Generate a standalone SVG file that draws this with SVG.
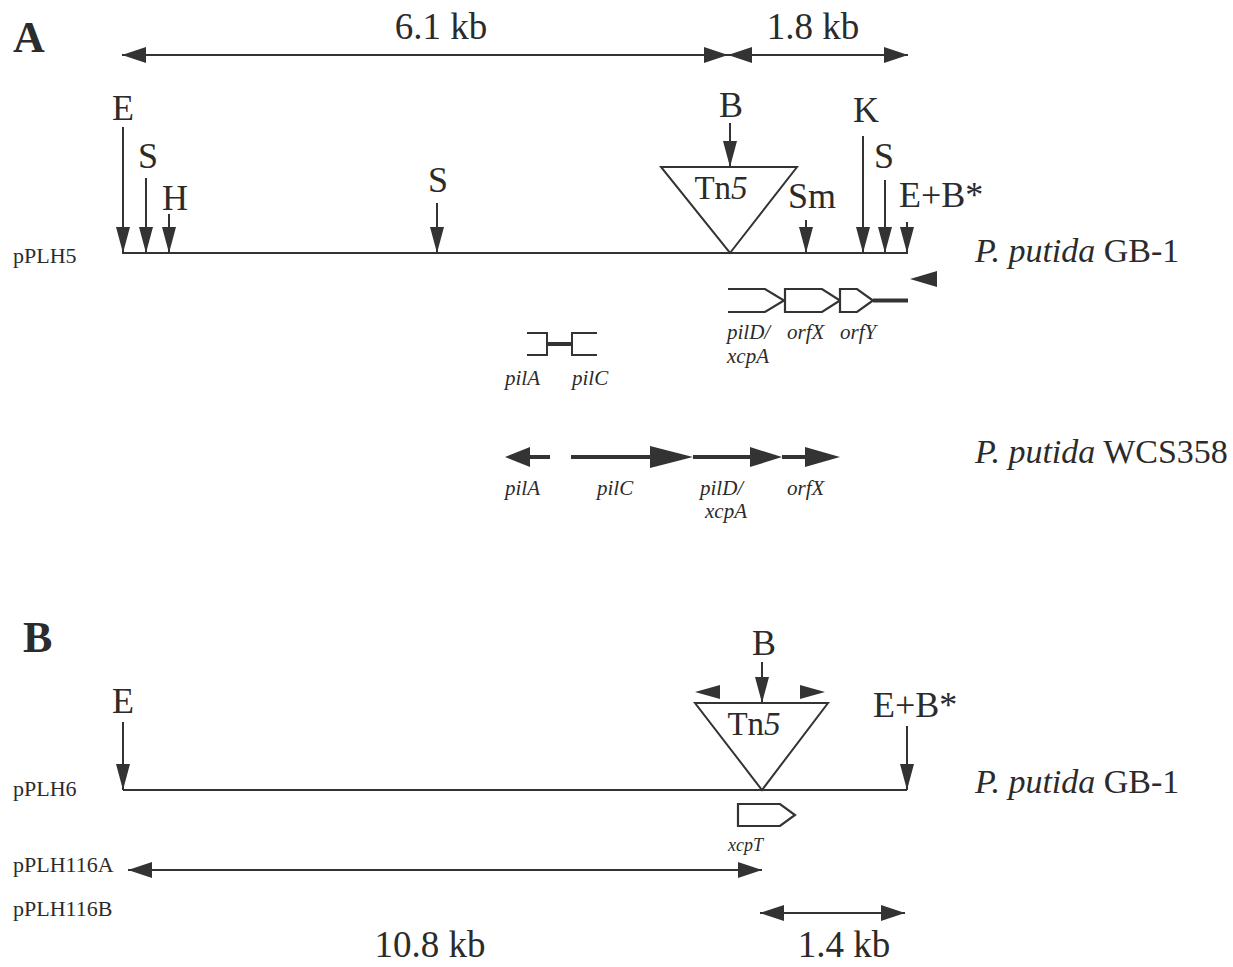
<svg xmlns="http://www.w3.org/2000/svg" width="1233" height="967" viewBox="0 0 1233 967">
<style>
.t{font-family:"Liberation Serif","Times New Roman",serif;fill:#2b2b2b}
.lbl{font-size:36px}
.kb{font-size:37px}
.pan{font-size:44px;font-weight:bold}
.pl{font-size:22px}
.gi{font-size:21px;font-style:italic}
.sp{font-size:34px}
.tn{font-size:33px}
.ln{stroke:#333;stroke-width:2;fill:none}
.thick{stroke:#333;stroke-width:4;fill:none}
.hd{fill:#333}
.box{stroke:#333;stroke-width:2.2;fill:#fff}
</style>
<defs>
<marker id="ra" markerUnits="userSpaceOnUse" markerWidth="14" markerHeight="26" refX="7" refY="26" orient="0" viewBox="0 0 14 26">
<path d="M0,0 L14,0 L7,26 z" fill="#333"/>
</marker>
<marker id="sa" markerUnits="userSpaceOnUse" markerWidth="24" markerHeight="16" refX="24" refY="8" orient="auto-start-reverse" viewBox="0 0 24 16">
<path d="M0,0 L24,8 L0,16 z" fill="#333"/>
</marker>
</defs>

<!-- Panel A -->
<g id="panelA-label"><text class="t pan" x="13" y="52">A</text></g>

<g id="scaleA">
<line class="ln" x1="122" y1="55" x2="728" y2="55" marker-start="url(#sa)" marker-end="url(#sa)"/>
<line class="ln" x1="728" y1="55" x2="908" y2="55" marker-start="url(#sa)" marker-end="url(#sa)"/>
<text class="t kb" x="441" y="39" text-anchor="middle">6.1 kb</text>
<text class="t kb" x="813" y="39" text-anchor="middle">1.8 kb</text>
</g>

<g id="pPLH5">
<text class="t pl" x="13" y="263">pPLH5</text>
<line class="ln" x1="122" y1="253" x2="908" y2="253"/>
</g>

<g id="sitesA">
<line class="ln" x1="123" y1="127" x2="123" y2="253" marker-end="url(#ra)"/>
<text class="t lbl" x="123" y="120" text-anchor="middle">E</text>
<line class="ln" x1="146" y1="178" x2="146" y2="253" marker-end="url(#ra)"/>
<text class="t lbl" x="148" y="168" text-anchor="middle">S</text>
<line class="ln" x1="169" y1="214" x2="169" y2="253" marker-end="url(#ra)"/>
<text class="t lbl" x="175" y="210" text-anchor="middle">H</text>
<line class="ln" x1="437" y1="203" x2="437" y2="253" marker-end="url(#ra)"/>
<text class="t lbl" x="438" y="192" text-anchor="middle">S</text>
<line class="ln" x1="730" y1="123" x2="730" y2="167" marker-end="url(#ra)"/>
<text class="t lbl" x="731" y="117" text-anchor="middle">B</text>
<line class="ln" x1="806" y1="220" x2="806" y2="253" marker-end="url(#ra)"/>
<text class="t lbl" x="812" y="208" text-anchor="middle">Sm</text>
<line class="ln" x1="863" y1="136" x2="863" y2="253" marker-end="url(#ra)"/>
<text class="t lbl" x="866" y="122" text-anchor="middle">K</text>
<line class="ln" x1="885" y1="180" x2="885" y2="253" marker-end="url(#ra)"/>
<text class="t lbl" x="884" y="168" text-anchor="middle">S</text>
<line class="ln" x1="907" y1="222" x2="907" y2="253" marker-end="url(#ra)"/>
<text class="t lbl" x="899" y="207">E+B*</text>
</g>

<g id="tn5A">
<path class="ln" d="M661,167 L797,167 L730,253 z"/>
<text class="t tn" x="721" y="199" text-anchor="middle">Tn<tspan font-style="italic">5</tspan></text>
</g>

<g id="gb1A"><text class="t sp" x="975" y="262"><tspan font-style="italic">P. putida</tspan> GB-1</text></g>

<g id="primerA"><path class="hd" d="M910,279 L937,271 L937,287 z"/></g>

<g id="genesGB1">
<path class="ln" style="stroke-width:2.2" d="M728,289 L765,289 L784,300.5 L765,312 L728,312"/>
<path class="box" d="M785,289 L822,289 L840,300.5 L822,312 L785,312 z"/>
<path class="box" d="M840,289 L857,289 L873,300.5 L857,312 L840,312 z"/>
<line class="thick" x1="873" y1="300.5" x2="908" y2="300.5"/>
<text class="t gi" x="727" y="339">pilD/</text>
<text class="t gi" x="727" y="363">xcpA</text>
<text class="t gi" x="787" y="339">orfX</text>
<text class="t gi" x="840" y="339">orfY</text>
</g>

<g id="pilAC">
<path class="ln" d="M527,333 L547,333 L547,355 L527,355"/>
<path class="ln" d="M597,333 L572,333 L572,355 L597,355"/>
<line class="thick" x1="547" y1="344" x2="572" y2="344"/>
<text class="t gi" x="505" y="385">pilA</text>
<text class="t gi" x="572" y="385">pilC</text>
</g>

<g id="wcs358">
<line class="thick" x1="528" y1="457" x2="550" y2="457"/>
<path class="hd" d="M505,457 L530,447 L530,467 z"/>
<line class="thick" x1="571" y1="457" x2="652" y2="457"/>
<path class="hd" d="M650,446 L693,457 L650,468 z"/>
<line class="thick" x1="693" y1="457" x2="752" y2="457"/>
<path class="hd" d="M750,447 L782,457 L750,467 z"/>
<line class="thick" x1="782" y1="457" x2="807" y2="457"/>
<path class="hd" d="M805,447 L840,457 L805,467 z"/>
<text class="t gi" x="505" y="495">pilA</text>
<text class="t gi" x="597" y="495">pilC</text>
<text class="t gi" x="700" y="495">pilD/</text>
<text class="t gi" x="705" y="518">xcpA</text>
<text class="t gi" x="787" y="495">orfX</text>
<text class="t sp" x="975" y="463"><tspan font-style="italic">P. putida</tspan> WCS358</text>
</g>

<!-- Panel B -->
<g id="panelB-label"><text class="t pan" x="23" y="652">B</text></g>

<g id="pPLH6">
<text class="t pl" x="13" y="796">pPLH6</text>
<line class="ln" x1="123" y1="790" x2="907" y2="790"/>
</g>

<g id="sitesB">
<line class="ln" x1="123" y1="722" x2="123" y2="790" marker-end="url(#ra)"/>
<text class="t lbl" x="123" y="713" text-anchor="middle">E</text>
<line class="ln" x1="762" y1="662" x2="762" y2="703" marker-end="url(#ra)"/>
<text class="t lbl" x="764" y="655" text-anchor="middle">B</text>
<line class="ln" x1="907" y1="726" x2="907" y2="790" marker-end="url(#ra)"/>
<text class="t lbl" x="873" y="717">E+B*</text>
</g>

<g id="tn5B">
<path class="ln" d="M695,703 L828,703 L762,790 z"/>
<text class="t tn" x="754" y="735" text-anchor="middle">Tn<tspan font-style="italic">5</tspan></text>
<path class="hd" d="M695,692 L720,685 L720,699 z"/>
<path class="hd" d="M825,692 L800,685 L800,699 z"/>
</g>

<g id="gb1B"><text class="t sp" x="975" y="793"><tspan font-style="italic">P. putida</tspan> GB-1</text></g>

<g id="xcpT">
<path class="box" d="M738,804 L780,804 L795,815 L780,826 L738,826 z"/>
<text class="t gi" x="728" y="851" style="font-size:18px">xcpT</text>
</g>

<g id="pPLH116">
<text class="t pl" x="13" y="872">pPLH116A</text>
<text class="t pl" x="13" y="916">pPLH116B</text>
<line class="ln" x1="128" y1="870" x2="762" y2="870" marker-start="url(#sa)" marker-end="url(#sa)"/>
<line class="ln" x1="760" y1="913" x2="905" y2="913" marker-start="url(#sa)" marker-end="url(#sa)"/>
<text class="t kb" x="430" y="957" text-anchor="middle">10.8 kb</text>
<text class="t kb" x="844" y="957" text-anchor="middle">1.4 kb</text>
</g>
</svg>
